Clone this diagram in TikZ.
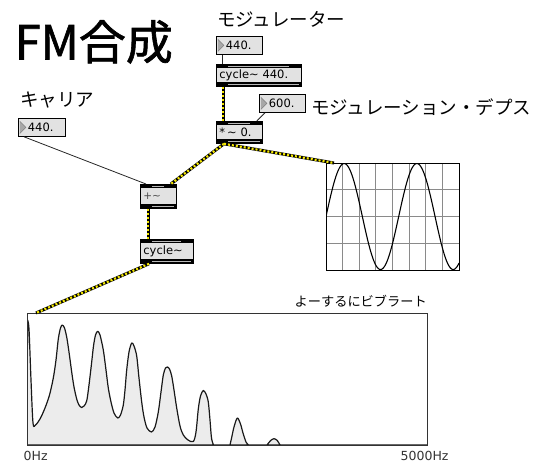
\documentclass[tikz,border=0pt]{standalone}
\usepackage{fontspec}
\setmainfont{DejaVu Sans}
\newfontfamily\jp{Noto Sans CJK JP}
\newfontfamily\jptitle[FakeBold=1.3]{Noto Sans CJK JP}
\newfontfamily\boxf{DejaVu Sans}
\definecolor{boxgray}{HTML}{E2E2E2}
\definecolor{bandgray}{HTML}{B8B8B8}
\definecolor{specfill}{HTML}{ECECEC}
\definecolor{gridc}{HTML}{8A8A8A}
\definecolor{sigy}{HTML}{F2E600}
\definecolor{trigray}{HTML}{A8A8A8}
\begin{document}
\begin{tikzpicture}[x=1pt,y=-1pt,
  objbox/.style={draw=black, line width=0.8pt, fill=boxgray, anchor=north west,
    inner xsep=3pt, inner ysep=0pt, align=left,
    font=\boxf\fontsize{11.5}{13}\selectfont,
    path picture={
      \fill[black] (path picture bounding box.north west) rectangle ([yshift=-4pt]path picture bounding box.north east);
      \fill[black] (path picture bounding box.south west) rectangle ([yshift=4pt]path picture bounding box.south east);
      \draw[bandgray, line width=1.3pt] ([xshift=12pt,yshift=-2pt]path picture bounding box.north west) -- ([xshift=-12pt,yshift=-2pt]path picture bounding box.north east);
      \draw[bandgray, line width=1.3pt] ([xshift=12pt,yshift=2pt]path picture bounding box.south west) -- ([xshift=-2pt,yshift=2pt]path picture bounding box.south east);
    }},
  numbox/.style={draw=black, line width=0.8pt, fill=boxgray, anchor=north west,
    inner xsep=2pt, inner ysep=0pt, align=left, minimum height=18pt,
    font=\boxf\fontsize{11.5}{13}\selectfont,
    path picture={
      \draw[fill=trigray, draw=gray, line width=0.6pt] ([xshift=1.5pt,yshift=-3pt]path picture bounding box.north west) -- ([xshift=7.5pt]path picture bounding box.west) -- ([xshift=1.5pt,yshift=3pt]path picture bounding box.south west);
    }},
  jplabel/.style={anchor=base west, inner sep=0pt, font=\jp\fontsize{18.5}{20}\selectfont},
  hzlabel/.style={anchor=base west, inner sep=0pt, font=\boxf\fontsize{12.5}{14}\selectfont, text=black!80},
  sig/.style={line width=3pt, draw=black, postaction={draw=sigy, line width=2.2pt, dash pattern=on 2pt off 2pt}},
  thin/.style={draw=black!85, line width=0.8pt},
  panel/.style={anchor=north west, inner sep=0pt}
]
\useasboundingbox (0,0) rectangle (551,463);

% texts
\node[anchor=base west, inner sep=0pt, font=\jptitle\fontsize{47}{50}\selectfont] (title) at (14.5,59.5) {FM合成};
\node[jplabel] (lmod) at (217,26) {モジュレーター};
\node[jplabel] (ldepth) at (311,114) {モジュレーション・デプス};
\node[jplabel] (lcar) at (20,106) {キャリア};
\node[anchor=base west, inner sep=0pt, font=\jp\fontsize{13.2}{15}\selectfont] (lvib) at (294.5,306) {よーするにビブラート};
\node[hzlabel] (l0) at (23.5,460.5) {0Hz};
\node[hzlabel] (l5) at (400.5,460.5) {5000Hz};

% boxes
\node[numbox, text width=42pt] (num1) at (216,36) {\hspace{7.5pt}440.};
\node[objbox, text width=79pt, minimum height=22pt] (cyc1) at (216,64) {cycle\textasciitilde{} 440.};
\node[numbox, text width=42pt] (num3) at (259,94) {\hspace{7.5pt}600.};
\node[objbox, text width=40pt, minimum height=22pt] (mul) at (216,121) {*\,\textasciitilde{} 0.};
\node[numbox, text width=43pt] (num2) at (18,118) {\hspace{7.5pt}440.};
\node[objbox, text width=30pt, minimum height=24pt, font=\boxf\fontsize{10.5}{12}\selectfont, text=black!70] (plus) at (140,184) {+\textasciitilde};
\node[objbox, text width=47pt, minimum height=24pt] (cyc2) at (140,239) {cycle\textasciitilde};

% scope
\begin{scope}
\clip (326,163) rectangle (459,270);
\fill[white] (326,163) rectangle (459,270);
\foreach \i in {1,...,7} \draw[gridc, line width=0.8pt] ({326+\i*133/8},163) -- ++(0,107);
\foreach \j in {1,2,3} \draw[gridc, line width=0.8pt] (326,{163+\j*107/4}) -- ++(133,0);
\draw[black, line width=1.1pt] plot[domain=0:133, samples=150] ({326+\x},{216.5-53*sin(4.952*\x)});
\end{scope}
\node[panel, draw=black, line width=1pt, minimum width=133pt, minimum height=107pt] (scope) at (326,163) {};

% spectrum
\begin{scope}
\clip (27,313) rectangle (427,445);
\filldraw[fill=specfill, draw=black!90, line width=1.2pt, line join=round]
 (27,445) -- plot[smooth, tension=0.5] coordinates {(27.5,320) (29,329) (31,380) (33,423) (35.5,425) (40,419) (45,408) (49.5,395) (53.3,378) (56,360) (58.3,339) (60.5,328) (62.3,325) (64.5,328) (66.7,337) (69,352) (71.7,372) (74,387) (76.7,399) (79,405) (81.7,407.5) (84,406) (86.7,401) (89,385) (91.7,362) (93.5,346) (95.5,335) (97.7,331.3) (100,335) (103.3,350) (106,370) (108.3,388) (111,402) (114,413) (117.7,418) (120.5,415) (123.3,405) (125,390) (126.7,370) (129,352) (131.7,343) (134,346) (136.7,356) (139,378) (141.7,402) (144,417) (147,428) (151.5,432) (155,427) (158.3,412) (161,392) (163.3,375) (165.5,368) (167.3,367) (169.5,369) (171.7,376) (174,390) (176.7,408) (180,426) (183.3,435) (188,440) (193.3,441.5) (196,432) (198.3,409) (200.5,396) (203.3,390.5) (206,394) (208.3,402) (210,420) (211.5,438) (213.5,445)}
 -- (230,445) -- plot[smooth, tension=0.5] coordinates {(230,445) (232,436) (234,427) (237.3,418) (240.5,424) (243,433) (246,442) (248.5,445)}
 -- (267,445) -- plot[smooth, tension=0.5] coordinates {(267,445) (270.7,440.5) (274,438.7) (277.3,440.5) (280,445)}
 -- (427,445) -- cycle;
\end{scope}
\node[panel, draw=black!80, line width=1.2pt, minimum width=400pt, minimum height=132pt] (spec) at (27,313) {};

% connections
\draw[thin] ([xshift=6pt]num1.south west) -- ([xshift=6pt]cyc1.north west);
\draw[thin] ([xshift=6pt]num3.south west) -- ([xshift=-6pt]mul.north east);
\draw[thin] ([xshift=6pt]num2.south west) -- ([xshift=6pt]plus.north west);
\draw[sig] ([xshift=7pt]cyc1.south west) -- ([xshift=7pt]mul.north west);
\draw[sig] ([xshift=8pt]mul.south west) -- ([xshift=-6pt]plus.north east);
\draw[sig] ([xshift=8pt]mul.south west) -- ([xshift=8pt]scope.north west);
\draw[sig] ([xshift=8pt]plus.south west) -- ([xshift=8pt]cyc2.north west);
\draw[sig] ([xshift=9pt]cyc2.south west) -- ([xshift=9pt]spec.north west);
\end{tikzpicture}
\end{document}
